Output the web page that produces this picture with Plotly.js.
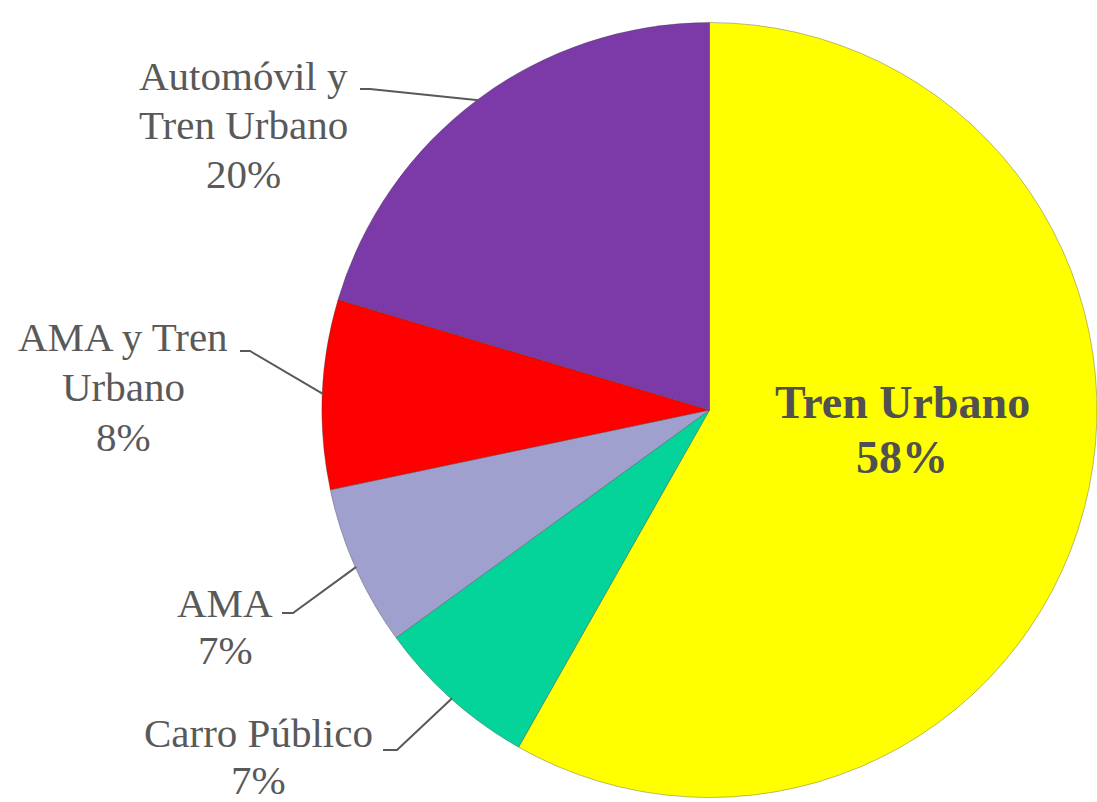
<!DOCTYPE html>
<html><head><meta charset="utf-8">
<script src="https://cdn.plot.ly/plotly-3.0.1.min.js"></script>
<style>html,body{margin:0;padding:0;background:#fff}</style></head>
<body>
<div id="chart" style="width:1097px;height:802px"></div>
<script>
// ---- data ----
const categories = ['Tren Urbano', 'Carro Público', 'AMA', 'AMA y Tren Urbano', 'Automóvil y Tren Urbano'];
const labelLines = [['Tren Urbano'], ['Carro Público'], ['AMA'], ['AMA y Tren', 'Urbano'], ['Automóvil y', 'Tren Urbano']];
const values = [58.2, 6.8, 6.7, 7.9, 20.4];
const colors = ['#FFFF00', '#05D49A', '#A0A0CE', '#FF0000', '#7B3AA8'];

// ---- layout constants ----
const W = 1097, H = 802;
const CX = 709.5, CY = 410, R = 387.5;
const FONT = 'Liberation Serif, Times New Roman, Times, serif';
const labelPos = [
  {x: 902, y0: 402.5, dy: 55, size: 46, bold: true, color: '#505050'},
  {x: 258, y0: 733, dy: 46.5, size: 41},
  {x: 225, y0: 602.5, dy: 47, size: 41},
  {x: 123, y0: 337, dy: 50, size: 41},
  {x: 243, y0: 76, dy: 49, size: 41}
];
const leaders = [null,
  {sx: 383, sy: 750, kx: 397},
  {sx: 282, sy: 613, kx: 293},
  {sx: 240, sy: 351, kx: 250},
  {sx: 360, sy: 89, kx: 370}
];

const px = x => x / W, py = y => 1 - y / H;
const total = values.reduce((a, b) => a + b, 0);

const annotations = [];
const shapes = [];
let cum = 0;
values.forEach((v, i) => {
  const mid = (cum + v / 2) / total * 2 * Math.PI;
  cum += v;
  const pct = Math.round(v / total * 100) + '%';
  const lp = labelPos[i];
  const lines = labelLines[i].concat([pct]);
  lines.forEach((t, j) => {
    annotations.push({
      xref: 'paper', yref: 'paper', x: px(lp.x), y: py(lp.y0 + j * lp.dy),
      xanchor: 'center', yanchor: 'middle', showarrow: false,
      text: lp.bold ? '<b>' + t + '</b>' : t,
      font: {family: FONT, size: lp.size, color: lp.color || '#595959'}
    });
  });
  const L = leaders[i];
  if (L) {
    const ex = CX + (R - 1) * Math.sin(mid);
    const ey = CY - (R - 1) * Math.cos(mid);
    shapes.push({type: 'path', xref: 'paper', yref: 'paper',
      path: `M ${px(L.sx)} ${py(L.sy)} L ${px(L.kx)} ${py(L.sy)} L ${px(ex)} ${py(ey)}`,
      line: {color: '#595959', width: 2}});
  }
});

const trace = {
  type: 'pie',
  labels: categories,
  values: values,
  sort: false,
  direction: 'clockwise',
  rotation: 0,
  textinfo: 'none',
  marker: {colors: colors, line: {color: 'rgba(60,60,60,0.35)', width: 1}},
  domain: {x: [322 / W, 1], y: [4 / H, 780 / H]},
  showlegend: false,
  hoverinfo: 'label+percent'
};

const layout = {
  width: W, height: H,
  margin: {l: 0, r: 0, t: 0, b: 0},
  paper_bgcolor: '#ffffff',
  showlegend: false,
  annotations: annotations,
  shapes: shapes
};

Plotly.newPlot('chart', [trace], layout, {displayModeBar: false, staticPlot: true});
</script>
</body></html>
